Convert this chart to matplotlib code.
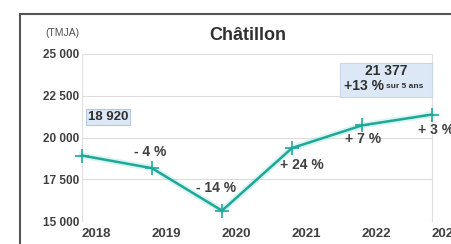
import matplotlib.pyplot as plt
from matplotlib.patches import Rectangle

plt.rcParams['font.family'] = ['Liberation Sans', 'DejaVu Sans']

annees = ['2018', '2019', '2020', '2021', '2022', '2023']
tmja = [18920, 18163, 15620, 19369, 20725, 21377]
evolutions = ['', '- 4 %', '- 14 %', '+ 24 %', '+ 7 %', '+ 3 %']
# decalage des etiquettes en points (x, y)
decalages = [(0, 0), (-1, 12), (-4, 16), (7, -12), (1, -10), (3, -11)]
yticks = [15000, 17500, 20000, 22500, 25000]
ylabels = ['15 000', '17 500', '20 000', '22 500', '25 000']

W, H = 452, 244
fig = plt.figure(figsize=(W / 100, H / 100), dpi=100)

def fx(x):
    return x / W

def fy(y):
    return 1 - y / H

ax = fig.add_axes([fx(82), fy(221), fx(432) - fx(82), fy(54) - fy(221)])

x = list(range(len(annees)))
vert = '#1fa898'
ax.plot(x, tmja, color='#8fe3d8', lw=4.5, alpha=0.35, clip_on=False, zorder=2)
ax.plot(x, tmja, color=vert, lw=1.8, marker='+', ms=10, mew=1.2,
        clip_on=False, zorder=3)

for i, txt in enumerate(evolutions):
    if txt:
        ax.annotate(txt, (x[i], tmja[i]), xytext=decalages[i],
                    textcoords='offset points', ha='center', va='center',
                    fontsize=10, fontweight='bold', color='#404040',
                    annotation_clip=False)

ax.set_xlim(0, 5)
ax.set_ylim(15000, 25000)
ax.set_yticks(yticks)
ax.set_yticklabels(ylabels, fontsize=8.5, fontweight='bold', color='#404040')
ax.set_xticks(x)
ax.set_xticklabels(annees, fontsize=9.5, fontweight='bold', color='#404040',
                   ha='left')
ax.tick_params(axis='both', length=0)
ax.tick_params(axis='y', pad=2)
ax.tick_params(axis='x', pad=5)
ax.grid(axis='y', color='#dcdcdc', lw=0.8)
ax.set_axisbelow(True)
for s in ['top', 'bottom']:
    ax.spines[s].set_visible(False)
for s in ['left', 'right']:
    ax.spines[s].set_color('#e0e0e0')
    ax.spines[s].set_linewidth(0.8)

# cadre du graphique
fig.patches.append(Rectangle((fx(20), fy(300)), fx(500) - fx(20), fy(14) - fy(300),
                             transform=fig.transFigure, fill=False,
                             edgecolor='#555555', lw=1.5))

fig.text(fx(248), fy(36), 'Châtillon', ha='center', va='center',
         fontsize=13, fontweight='bold', color='#303030')
fig.text(fx(62), fy(33), '(TMJA)', ha='center', va='center',
         fontsize=7.5, color='#505050')

# etiquette de depart
fig.text(fx(108), fy(117), '18 920', ha='center', va='center',
         fontsize=9.5, fontweight='bold', color='#303030',
         bbox=dict(boxstyle='square,pad=0.15', fc='#dce8f6', ec='#b8c8dc', lw=0.8))

# etiquette d'arrivee
fig.patches.append(Rectangle((fx(340), fy(97)), fx(432) - fx(340), fy(63) - fy(97),
                             transform=fig.transFigure, fc='#dce8f6',
                             ec='#c8d6e8', lw=0.8, zorder=5))
fig.text(fx(386), fy(71), '21 377', ha='center', va='center',
         fontsize=10, fontweight='bold', color='#303030', zorder=6)
fig.text(fx(384), fy(86), '+13 %', ha='right', va='center',
         fontsize=10, fontweight='bold', color='#303030', zorder=6)
fig.text(fx(386), fy(87), 'sur 5 ans', ha='left', va='center',
         fontsize=6, fontweight='bold', color='#303030', zorder=6)

fig.savefig('out.png', dpi=100)
